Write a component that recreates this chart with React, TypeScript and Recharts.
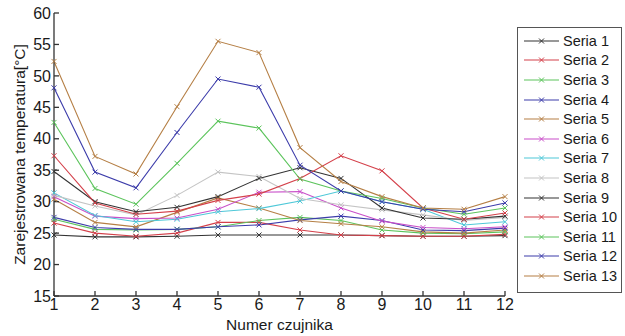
import { Line, LineChart, XAxis, YAxis } from 'recharts'

const sensors = [1, 2, 3, 4, 5, 6, 7, 8, 9, 10, 11, 12]
const yTicks = [15, 20, 25, 30, 35, 40, 45, 50, 55, 60]

const seria1 = [24.7, 24.4, 24.4, 24.5, 24.7, 24.7, 24.7, 24.7, 24.6, 24.5, 24.5, 24.6]
const seria2 = [26.6, 25.0, 24.5, 25.0, 26.7, 26.7, 25.5, 24.7, 24.6, 24.5, 24.5, 24.8]
const seria3 = [27.2, 25.6, 25.5, 25.6, 26.0, 27.0, 27.5, 27.0, 25.5, 25.0, 24.9, 25.2]
const seria4 = [27.5, 25.9, 25.6, 25.6, 26.0, 26.3, 27.1, 27.7, 27.0, 25.5, 25.4, 25.8]
const seria5 = [30.4, 26.7, 26.0, 28.3, 30.6, 29.0, 27.0, 26.5, 26.0, 25.2, 25.0, 25.5]
const seria6 = [30.8, 27.7, 27.3, 27.4, 28.8, 31.5, 31.6, 29.0, 26.9, 25.9, 25.7, 26.0]
const seria7 = [31.4, 27.8, 26.8, 27.2, 28.4, 28.9, 30.1, 31.7, 30.0, 28.8, 26.3, 26.8]
const seria8 = [31.0, 29.3, 27.9, 31.0, 34.7, 34.0, 30.5, 29.5, 28.7, 27.9, 27.0, 27.5]
const seria9 = [34.8, 30.0, 28.4, 29.1, 30.8, 33.7, 35.4, 33.7, 29.0, 27.4, 27.2, 27.7]
const seria10 = [37.3, 29.8, 28.0, 28.5, 30.2, 31.2, 33.7, 37.3, 34.9, 29.0, 27.2, 28.2]
const seria11 = [42.6, 32.1, 29.6, 36.1, 42.8, 41.7, 33.6, 31.7, 30.5, 29.0, 28.0, 29.0]
const seria12 = [48.1, 34.7, 32.2, 41.0, 49.5, 48.2, 35.8, 31.7, 30.0, 28.8, 28.4, 29.8]
const seria13 = [52.3, 37.2, 34.4, 45.1, 55.5, 53.7, 38.6, 33.2, 30.8, 29.0, 28.8, 30.8]

const seriesNames = [
  'Seria 1', 'Seria 2', 'Seria 3', 'Seria 4', 'Seria 5', 'Seria 6', 'Seria 7',
  'Seria 8', 'Seria 9', 'Seria 10', 'Seria 11', 'Seria 12', 'Seria 13',
]
const seriesValues = [
  seria1, seria2, seria3, seria4, seria5, seria6, seria7,
  seria8, seria9, seria10, seria11, seria12, seria13,
]
const COLORS = [
  '#333333', '#d4404a', '#5cc45c', '#3c3caa', '#b57f45', '#c94fc9', '#4ec8d8',
  '#c4c4c4', '#333333', '#d4404a', '#5cc45c', '#3c3caa', '#b57f45',
]

const data = sensors.map((s, i) => {
  const row: Record<string, number> = { x: s }
  seriesNames.forEach((name, k) => {
    row[name] = seriesValues[k][i]
  })
  return row
})

const FONT = '"Liberation Sans", Arial, sans-serif'

const Cross = (color: string) => (props: any) => {
  const { cx, cy, index } = props
  if (cx == null || cy == null) return <g key={index} />
  const r = 2.5
  return (
    <path
      key={index}
      d={`M${cx - r},${cy - r}L${cx + r},${cy + r}M${cx + r},${cy - r}L${cx - r},${cy + r}`}
      stroke={color}
      strokeWidth={1}
      fill="none"
    />
  )
}

function LegendBox() {
  return (
    <div
      style={{
        position: 'absolute',
        left: 517,
        top: 27,
        width: 105,
        height: 266,
        border: '1px solid #555',
        boxSizing: 'border-box',
        background: '#fff',
        fontFamily: FONT,
        fontSize: 14.5,
        color: '#1a1a1a',
        paddingTop: 3,
        whiteSpace: 'nowrap',
        overflow: 'hidden',
      }}
    >
      {seriesNames.map((name, k) => (
        <div key={name} style={{ height: 19.6, display: 'flex', alignItems: 'center' }}>
          <svg width={45} height={10} style={{ flex: 'none' }}>
            <line x1={6} y1={5} x2={41} y2={5} stroke={COLORS[k]} strokeWidth={1.2} />
            <path d="M21,2.5L26,7.5M26,2.5L21,7.5" stroke={COLORS[k]} strokeWidth={1} />
          </svg>
          <span>{name}</span>
        </div>
      ))}
    </div>
  )
}

export default function App() {
  return (
    <div style={{ position: 'absolute', left: 0, top: 0, width: 625, height: 336, background: '#fff' }}>
      <LineChart
        width={625}
        height={336}
        data={data}
        margin={{ top: 13, right: 120, bottom: 0, left: 0 }}
      >
        <XAxis
          dataKey="x"
          type="number"
          domain={[1, 12]}
          ticks={sensors}
          tickSize={-5}
          tickMargin={8}
          height={40}
          stroke="#333"
          strokeWidth={1.3}
          tick={{ fill: '#1a1a1a', fontSize: 16, fontFamily: FONT }}
          label={{ value: 'Numer czujnika', position: 'insideBottom', offset: 6, fill: '#1a1a1a', fontSize: 15.5, fontFamily: FONT }}
        />
        <XAxis
          xAxisId="top"
          dataKey="x"
          type="number"
          domain={[1, 12]}
          ticks={sensors}
          orientation="top"
          tickSize={-5}
          height={0}
          tick={false}
          stroke="#333"
          strokeWidth={1.3}
        />
        <YAxis
          type="number"
          domain={[15, 60]}
          ticks={yTicks}
          tickSize={-5}
          tickMargin={8}
          width={54}
          stroke="#333"
          strokeWidth={1.3}
          tick={{ fill: '#1a1a1a', fontSize: 16, fontFamily: FONT }}
          label={{
            value: 'Zarejestrowana temperatura[°C]',
            angle: -90,
            position: 'insideLeft',
            offset: 19,
            style: { textAnchor: 'middle' },
            fill: '#1a1a1a',
            fontSize: 15.5,
            fontFamily: FONT,
          }}
        />
        <YAxis
          yAxisId="r"
          orientation="right"
          type="number"
          domain={[15, 60]}
          ticks={yTicks}
          tickSize={-5}
          width={0}
          tick={false}
          stroke="#333"
          strokeWidth={1.3}
        />
        {seriesNames.map((name, k) => (
          <Line
            key={name}
            dataKey={name}
            type="linear"
            stroke={COLORS[k]}
            strokeWidth={1.1}
            dot={Cross(COLORS[k])}
            activeDot={false}
            isAnimationActive={false}
          />
        ))}
      </LineChart>
      <LegendBox />
    </div>
  )
}
